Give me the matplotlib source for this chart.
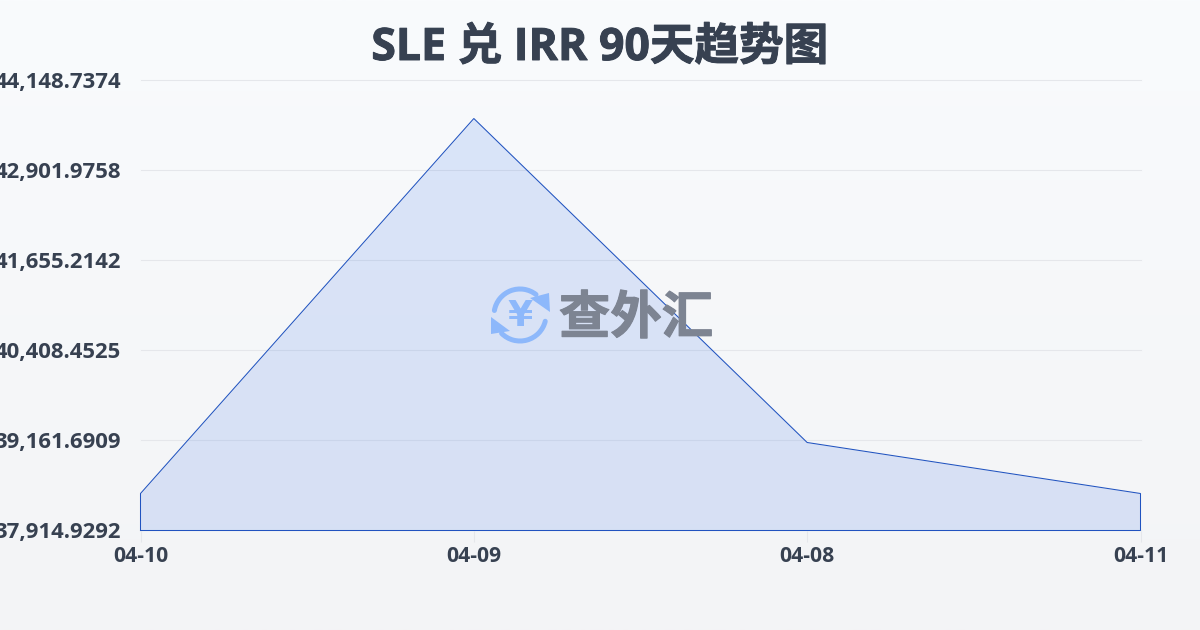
import numpy as np
import matplotlib
matplotlib.use("Agg")
import matplotlib.pyplot as plt
import matplotlib.patheffects as pe
from matplotlib.patches import Arc, Polygon

plt.rcParams["font.family"] = ["Open Sans", "Noto Sans CJK SC", "DejaVu Sans"]

title = "SLE 兑 IRR 90天趋势图"
dates = ["04-10", "04-09", "04-08", "04-11"]
rates = [38427.5, 43622.3, 39134.0, 38427.5]
y_ticks = [37914.9292, 39161.6909, 40408.4525, 41655.2142, 42901.9758, 44148.7374]

W, H = 1200, 630
TEXT = "#374151"
BLUE = "#2053c0"
LOGO = "#8db8fb"

fig = plt.figure(figsize=(12, 6.3), dpi=100)

# page background, top to bottom
bg = fig.add_axes([0, 0, 1, 1], zorder=0)
grad = np.linspace(0, 1, 256).reshape(-1, 1)
top = np.array([0xf9, 0xfb, 0xfd]) / 255
bottom = np.array([0xf3, 0xf4, 0xf6]) / 255
bg.imshow(top + (bottom - top) * grad[:, :, None], extent=[0, W, H, 0], aspect="auto")
bg.set_xlim(0, W)
bg.set_ylim(H, 0)
bg.axis("off")

ax = fig.add_axes([140.5 / W, 1 - 530.5 / H, 1000 / W, 450 / H], zorder=1)
ax.patch.set_alpha(0)
x = np.arange(len(dates))
ax.set_xlim(x[0], x[-1])
ax.set_ylim(y_ticks[0], y_ticks[-1])

ax.yaxis.grid(True, color="#e5e7eb", lw=0.75, clip_on=False)
ax.set_axisbelow(True)
ax.fill_between(x, rates, y_ticks[0], color="#2f6be8", alpha=0.145, lw=0)
ax.plot(np.r_[x[0], x, x[-1], x[0]], np.r_[y_ticks[0], rates, y_ticks[0], y_ticks[0]],
        color=BLUE, lw=0.75, clip_on=False, solid_joinstyle="miter")

for s in ax.spines.values():
    s.set_visible(False)
ax.set_xticks(x, dates)
ax.set_yticks(y_ticks, [f"{v:,.4f}" for v in y_ticks])
ax.tick_params(axis="x", length=8, width=0.8, color="#e5e7eb", pad=3,
               labelsize=15.2, labelcolor=TEXT)
ax.tick_params(axis="y", length=0, pad=14, labelsize=15.9, labelcolor=TEXT)
for lab in ax.get_xticklabels() + ax.get_yticklabels():
    lab.set_fontweight("bold")

# overlay for title and watermark, in pixel coordinates
top_ax = fig.add_axes([0, 0, 1, 1], zorder=2)
top_ax.set_xlim(0, W)
top_ax.set_ylim(H, 0)
top_ax.axis("off")
t = top_ax.text(600, 48.5, title, ha="center", va="center", fontsize=32.1,
                fontweight="bold", color=TEXT)
t.set_path_effects([pe.withStroke(linewidth=0.7, foreground=TEXT)])

cx, cy, r = 520, 315, 26
top_ax.add_patch(Arc((cx, cy), 2 * r, 2 * r, theta1=190, theta2=308, color=LOGO, lw=3.6,
                     capstyle="round"))
top_ax.add_patch(Arc((cx, cy), 2 * r, 2 * r, theta1=14, theta2=135, color=LOGO, lw=3.6,
                     capstyle="round"))
top_ax.add_patch(Polygon([(550, 312), (530, 298), (549, 293)], color=LOGO, lw=0))
top_ax.add_patch(Polygon([(491, 317), (510, 331), (491, 334)], color=LOGO, lw=0))
top_ax.text(cx, cy + 0.5, "¥", ha="center", va="center", fontsize=26, fontweight="bold",
            color=LOGO, family=["DejaVu Sans"])
mark = top_ax.text(636, 318, "查外汇", ha="center", va="center", fontsize=37, fontweight="bold",
                   color="#7d8492", family=["Noto Sans CJK SC", "DejaVu Sans"])
mark.set_path_effects([pe.withStroke(linewidth=0.8, foreground="#7d8492")])

fig.savefig("out.png", dpi=100)
